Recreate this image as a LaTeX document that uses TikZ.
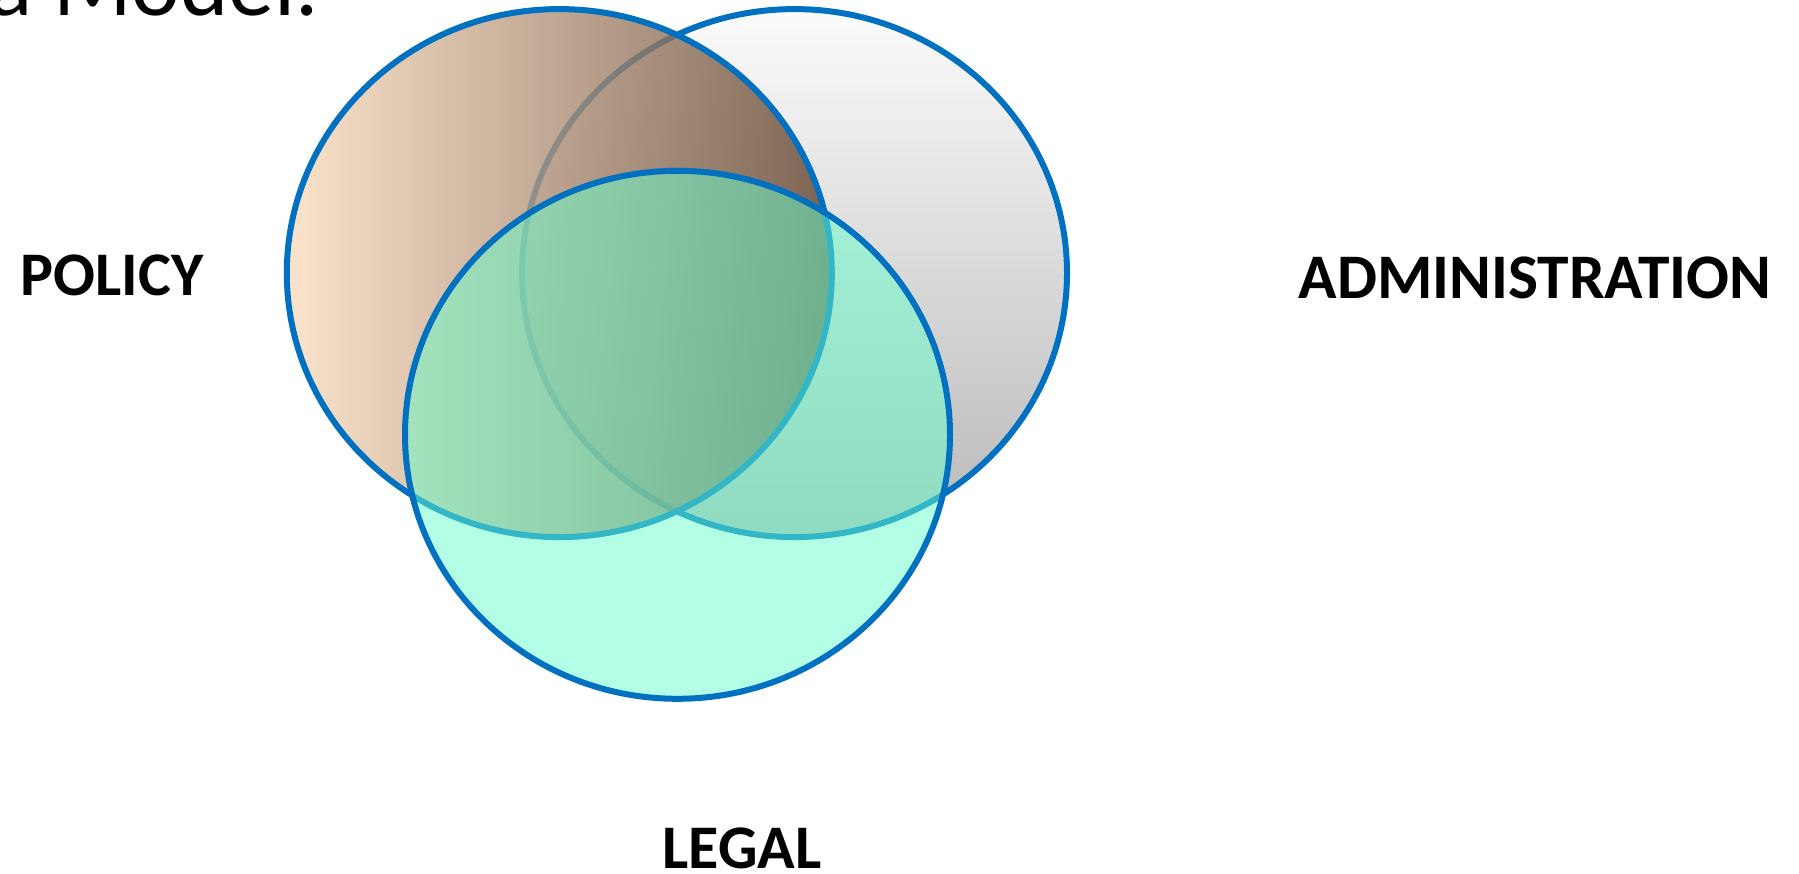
\documentclass[tikz,border=0pt]{standalone}
\usepackage{fontspec}
\setmainfont{Carlito}
\usetikzlibrary{shapes.geometric}
\definecolor{ringblue}{HTML}{0070C0}
\definecolor{peach}{HTML}{FBDCBE}
\definecolor{brownd}{HTML}{624430}
\definecolor{greytop}{HTML}{FBFBFB}
\definecolor{greybot}{HTML}{B8B8B8}
\definecolor{aqua}{HTML}{66FFCC}
\tikzset{
  ring/.style={ellipse, draw=ringblue, line width=6pt, inner sep=0pt, outer sep=0pt,
    minimum width=545pt, minimum height=528pt},
  lbl/.style={font=\fontsize{62}{70}\selectfont\bfseries, text=black, inner sep=0pt}
}
\begin{document}
\begin{tikzpicture}[x=1pt,y=1pt]
\useasboundingbox (0,0) rectangle (1799,873);
\node[ring, top color=greytop, bottom color=greybot] (admin) at (794.5,599.9) {};
\node[ring, left color=peach, right color=brownd, fill opacity=0.8] (policy) at (559.3,599.9) {};
\node[ring, fill=aqua, fill opacity=0.5] (legal) at (677.5,438.2) {};
\node[font=\fontsize{92}{100}\selectfont, anchor=base east, inner sep=0pt] (title) at (319,857) {a Model.};
\node[lbl] (pol) at (112,598) {POLICY};
\node[lbl, font=\fontsize{63.5}{70}\selectfont\bfseries] (adm) at (1535,595.4) {ADMINISTRATION};
\node[lbl] (leg) at (742,25) {LEGAL};
\end{tikzpicture}
\end{document}
